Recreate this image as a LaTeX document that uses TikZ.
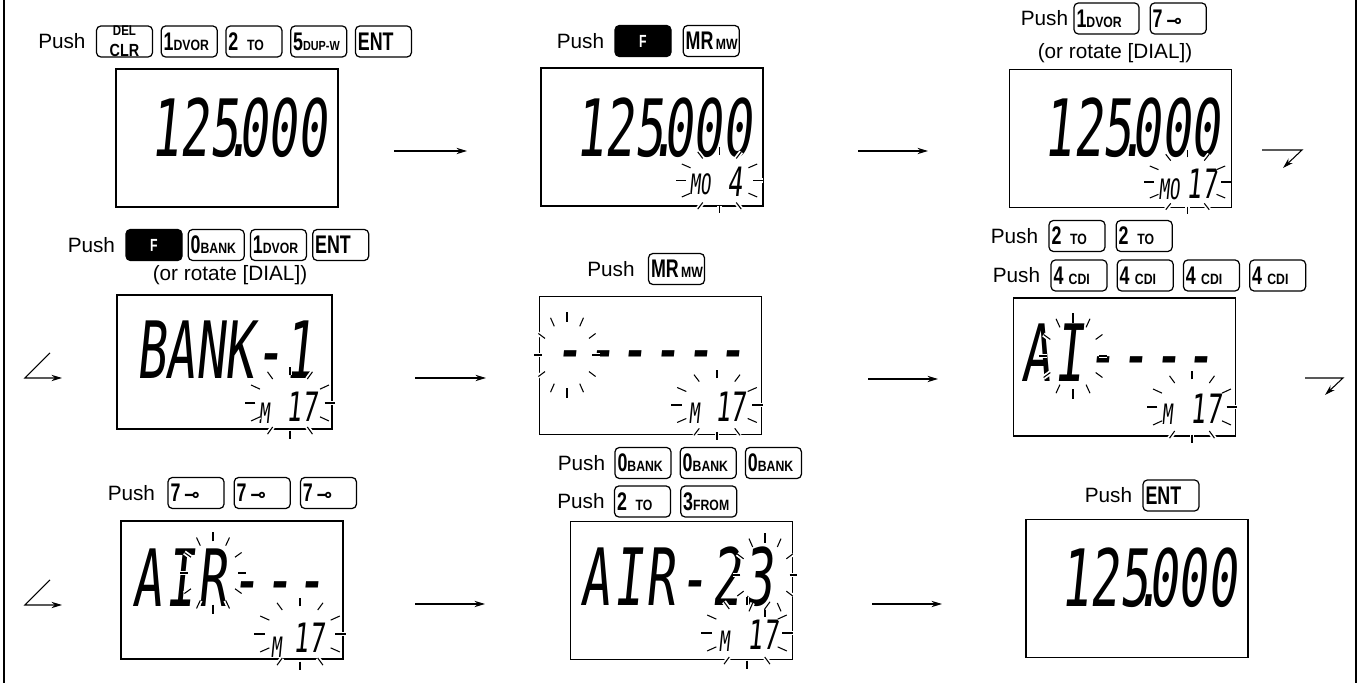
\documentclass[tikz,border=0pt]{standalone}
\usepackage{fontspec}
\setmainfont{Liberation Sans}
\newfontfamily\lcdfont[FakeStretch=0.62, FakeSlant=0.1]{DejaVu Sans Mono}
\newfontfamily\lcdrowfont[FakeStretch=0.62, FakeSlant=0.1, LetterSpace=4]{DejaVu Sans Mono}
\newfontfamily\keyfont[FakeStretch=0.7]{Liberation Sans}
\newfontfamily\keysubfont[FakeStretch=0.82]{Liberation Sans}
\newfontfamily\symfont{DejaVu Sans}
\usetikzlibrary{arrows.meta, positioning, calc}
\newcommand\ksub[1]{{\keysubfont\bfseries\fontsize{8.5}{9}\selectfont #1}}

\begin{document}
\begin{tikzpicture}[
  lcd/.style={draw, line width=1.1pt, rectangle,
              minimum width=4.44cm, minimum height=2.76cm, inner sep=0pt},
  key/.style={draw, line width=0.7pt, rounded corners=2.5pt,
              minimum width=1.12cm, minimum height=0.62cm,
              text width=1.02cm, align=left, inner xsep=0.05cm, inner ysep=0pt,
              font=\keyfont\bfseries\fontsize{14.5}{15}\selectfont},
  fkey/.style={key, fill=black, text=white, align=center,
               font=\keyfont\bfseries\fontsize{10}{10}\selectfont},
  push/.style={font=\fontsize{11.8}{13}\selectfont, inner sep=0pt},
  lcdbig/.style={font=\lcdfont\fontsize{45}{45}\selectfont, inner sep=0pt},
  lcdrow/.style={font=\lcdrowfont\fontsize{45}{45}\selectfont, inner sep=0pt},
  lcdmid/.style={font=\lcdfont\fontsize{23}{23}\selectfont, inner sep=0pt},
  lcdsm/.style={font=\lcdfont\fontsize{16}{16}\selectfont, inner sep=0pt},
  ray/.style={line width=0.6pt, preaction={draw=white, line width=2.6pt}},
  blink/.pic={\foreach \a in {0,30,...,330} \draw[ray] (\a:0.77) -- (\a:1);},
  arr/.style={-{Stealth[length=6pt,width=3.6pt]}, line width=0.6pt},
  frame/.style={line width=0.7pt},
]
\useasboundingbox (0,0) rectangle (27.18,13.66);
\draw[frame] (0.08,0) -- (0.08,13.66);
\draw[frame] (27.12,0) -- (27.12,13.66);

%% Step 1: enter the frequency
\node[key, align=center] (k11) at (2.49,12.83)
  {{\keysubfont\bfseries\fontsize{8}{8}\selectfont DEL}\\[-3pt]{\keysubfont\bfseries\fontsize{10}{10}\selectfont CLR}};
\node[key, right=0.15 of k11] (k12) {1\ksub{DVOR}};
\node[key, right=0.15 of k12] (k13) {2\hspace{5pt}\ksub{TO}};
\node[key, right=0.15 of k13] (k14)
  {\mbox{5{\keysubfont\bfseries\fontsize{7.5}{8}\selectfont DUP-W}}};
\node[key, right=0.15 of k14] (k15) {ENT};
\node[push, left=0.2 of k11] (p1) {Push};
\node[lcd] (lcd1) at (4.54,10.90) {};
\node[lcdbig] (d1) at (4.77,11.11) {125\kern-8.5pt.\kern-8.5pt000};

%% Step 2: memory write mode
\node[fkey] (k21) at (12.86,12.84) {F};
\node[key, right=0.22 of k21] (k22) {MR\ksub{\,MW}};
\node[push, left=0.2 of k21] (p2) {Push};
\node[lcd] (lcd2) at (13.04,10.92) {};
\node[lcdbig] (d2) at (13.27,11.11) {125\kern-8.5pt.\kern-8.5pt000};
\node[lcdsm] (m2) at (14.00,9.98) {MO};
\node[lcdmid] (c2) at (14.70,10.03) {4};
\pic[xscale=0.87, yscale=0.66] at (14.39,10.05) {blink};

%% Step 3: select the channel
\node[key, minimum width=1.30cm, text width=1.20cm] (k31) at (22.13,13.29) {1\ksub{DVOR}};
\node[key, right=0.2 of k31] (k32) {7\hspace{2pt}{\symfont\fontsize{11}{11}\selectfont ⊸}};
\node[push, left=0.1 of k31] (p3) {Push};
\node[push] (n3) at (22.30,12.60) {(or rotate [DIAL])};
\node[lcd] (lcd3) at (22.41,10.89) {};
\node[lcdbig] (d3) at (22.64,11.11) {125\kern-8.5pt.\kern-8.5pt000};
\node[lcdsm] (m3) at (23.38,9.88) {MO};
\node[lcdmid] (c3) at (24.04,9.98) {17};
\pic[xscale=0.87, yscale=0.64] at (23.75,10.02) {blink};

%% Step 4: select the bank
\node[fkey] (k41) at (3.08,8.76) {F};
\node[key, right=0.1 of k41] (k42) {0\ksub{BANK}};
\node[key, right=0.1 of k42] (k43) {1\ksub{DVOR}};
\node[key, right=0.1 of k43] (k44) {ENT};
\node[push, left=0.2 of k41] (p4) {Push};
\node[push] (n4) at (4.60,8.16) {(or rotate [DIAL])};
\node[lcd, minimum width=4.30cm, minimum height=2.68cm] (lcd4) at (4.49,6.42) {};
\node[lcdbig] (d4) at (4.50,6.66) {BANK-1};
\node[lcdsm] (m4) at (5.28,5.39) {M};
\node[lcdmid] (c4) at (6.04,5.52) {17};
\pic[xscale=0.90, yscale=0.72] at (5.80,5.60) {blink};

%% Step 5: name entry
\node[key] (k51) at (13.53,8.28) {MR\ksub{\,MW}};
\node[push, left=0.26 of k51] (p5) {Push};
\node[lcd] (lcd5) at (13.01,6.35) {};
\node[lcdrow, anchor=base] (d5) at (13.00,6.14) {------};
\node[lcdsm] (m5) at (13.88,5.40) {M};
\node[lcdmid] (c5) at (14.61,5.52) {17};
\pic[xscale=0.66, yscale=0.86] at (11.34,6.56) {blink};
\pic[xscale=0.92, yscale=0.70] at (14.34,5.56) {blink};

%% Step 6
\node[key] (k61) at (21.54,8.94) {2\hspace{5pt}\ksub{TO}};
\node[key, right=0.2 of k61] (k62) {2\hspace{5pt}\ksub{TO}};
\node[push, left=0.2 of k61] (p6a) {Push};
\node[key] (k63) at (21.58,8.15) {4\hspace{3pt}\ksub{CDI}};
\node[key, right=0.18 of k63] (k64) {4\hspace{3pt}\ksub{CDI}};
\node[key, right=0.18 of k64] (k65) {4\hspace{3pt}\ksub{CDI}};
\node[key, right=0.18 of k65] (k66) {4\hspace{3pt}\ksub{CDI}};
\node[push, left=0.2 of k63] (p6b) {Push};
\node[lcd] (lcd6) at (22.49,6.32) {};
\node[lcdrow] (d6) at (22.36,6.60) {AI----};
\node[lcdsm] (m6) at (23.34,5.38) {M};
\node[lcdmid] (c6) at (24.12,5.48) {17};
\pic[xscale=0.68, yscale=0.86] at (21.46,6.54) {blink};
\pic[xscale=0.90, yscale=0.72] at (23.84,5.52) {blink};

%% Step 7
\node[key] (k71) at (3.92,3.80) {7\hspace{2pt}{\symfont\fontsize{11}{11}\selectfont ⊸}};
\node[key, right=0.18 of k71] (k72) {7\hspace{2pt}{\symfont\fontsize{11}{11}\selectfont ⊸}};
\node[key, right=0.18 of k72] (k73) {7\hspace{2pt}{\symfont\fontsize{11}{11}\selectfont ⊸}};
\node[push, left=0.24 of k71] (p7) {Push};
\node[lcd] (lcd7) at (4.64,1.86) {};
\node[lcdrow] (d7) at (4.58,2.10) {AIR---};
\node[lcdsm] (m7) at (5.52,0.71) {M};
\node[lcdmid] (c7) at (6.18,0.90) {17};
\pic[xscale=0.66, yscale=0.82] at (4.26,2.20) {blink};
\pic[xscale=0.92, yscale=0.72] at (6.00,0.98) {blink};

%% Step 8
\node[key] (k81) at (12.86,4.40) {0\ksub{BANK}};
\node[key, right=0.16 of k81] (k82) {0\ksub{BANK}};
\node[key, right=0.16 of k82] (k83) {0\ksub{BANK}};
\node[push, left=0.18 of k81] (p8a) {Push};
\node[key] (k84) at (12.85,3.63) {2\hspace{5pt}\ksub{TO}};
\node[key, right=0.18 of k84] (k85) {3\ksub{FROM}};
\node[push, left=0.18 of k84] (p8b) {Push};
\node[lcd] (lcd8) at (13.63,1.85) {};
\node[lcdrow] (d8) at (13.54,2.12) {AIR-23};
\node[lcdsm] (m8) at (14.48,0.84) {M};
\node[lcdmid] (c8) at (15.26,0.96) {17};
\pic[xscale=0.64, yscale=0.84] at (15.30,2.16) {blink};
\pic[xscale=0.92, yscale=0.72] at (14.94,1.00) {blink};

%% Step 9: store
\node[key] (k91) at (23.42,3.75) {ENT};
\node[push, left=0.2 of k91] (p9) {Push};
\node[lcd] (lcd9) at (22.74,1.89) {};
\node[lcdbig] (d9) at (22.97,2.10) {125\kern-8.5pt.\kern-8.5pt000};

%% Arrows between steps
\coordinate (r1a) at (7.88,10.64);  \coordinate (r1b) at (9.34,10.64);
\coordinate (r1c) at (17.16,10.64); \coordinate (r1d) at (18.56,10.64);
\coordinate (r2a) at (8.30,6.10);   \coordinate (r2b) at (9.72,6.10);
\coordinate (r2c) at (17.36,6.08);  \coordinate (r2d) at (18.76,6.08);
\coordinate (r3a) at (8.30,1.58);   \coordinate (r3b) at (9.70,1.58);
\coordinate (r3c) at (17.44,1.58);  \coordinate (r3d) at (18.84,1.58);
\draw[arr] (r1a) -- (r1b);
\draw[arr] (r1c) -- (r1d);
\draw[arr] (r2a) -- (r2b);
\draw[arr] (r2c) -- (r2d);
\draw[arr] (r3a) -- (r3b);
\draw[arr] (r3c) -- (r3d);

%% Line breaks
\coordinate (t1a) at (25.24,10.66); \coordinate (t1b) at (26.04,10.66);
\coordinate (t1c) at (25.66,10.30);
\coordinate (t2a) at (26.10,6.10);  \coordinate (t2b) at (26.86,6.10);
\coordinate (t2c) at (26.50,5.76);
\coordinate (s1a) at (1.00,6.60);   \coordinate (s1b) at (0.50,6.10);
\coordinate (s1c) at (1.24,6.10);
\coordinate (s2a) at (1.00,2.06);   \coordinate (s2b) at (0.50,1.56);
\coordinate (s2c) at (1.24,1.56);
\draw[arr] (t1a) -- (t1b) -- (t1c);
\draw[arr] (t2a) -- (t2b) -- (t2c);
\draw[arr] (s1a) -- (s1b) -- (s1c);
\draw[arr] (s2a) -- (s2b) -- (s2c);
\end{tikzpicture}
\end{document}
